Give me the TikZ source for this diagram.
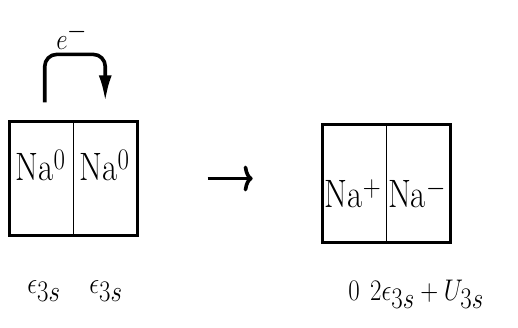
\documentclass[tikz,border=0pt]{standalone}
\usepackage{amsmath}
\usepackage{tikz}
\usetikzlibrary{arrows.meta}

\newcommand{\tall}[1]{\scalebox{1}[1.2]{#1}}

\begin{document}
\begin{tikzpicture}[x=1pt, y=1pt,
  cell/.style = {draw, line width=1.2pt, minimum width=63.5pt, inner sep=0pt},
  lbl/.style = {font=\fontsize{33}{38}\selectfont, inner sep=0pt},
  mlbl/.style = {font=\fontsize{37}{42}\selectfont, inner sep=0pt}]
  \useasboundingbox (0,0) rectangle (518,327);

  % two neutral atoms
  \node[cell, minimum height=113pt] (na1) at (41.75,148.5) {};
  \node[cell, minimum height=113pt] (na2) at (105.25,148.5) {};
  \draw[line width=2.8pt] (na1.north west) rectangle (na2.south east);
  \node[lbl, anchor=base] (tna1) at (40.5,147) {\tall{Na$^0$}};
  \node[lbl, anchor=base] (tna2) at (104.5,147) {\tall{Na$^0$}};

  \draw[-{Latex[length=26pt, width=13pt]}, line width=3.6pt, rounded corners=12pt]
    ([xshift=3pt, yshift=19pt]na1.north) -- ++(0,48) -| ([yshift=20pt]na2.north);
  \node[mlbl, anchor=base] (elec) at (72,277) {\tall{$e^-$}};

  \node[mlbl, anchor=base] (en1) at (44,34) {\tall{$\epsilon_{3s}$}};
  \node[mlbl, anchor=base] (en2) at (106,34) {\tall{$\epsilon_{3s}$}};

  % ion pair
  \node[cell, minimum height=117pt] (nap) at (355,143.5) {};
  \node[cell, minimum height=117pt] (nam) at (418.5,143.5) {};
  \draw[line width=2.8pt] (nap.north west) rectangle (nam.south east);
  \node[lbl, anchor=base] (tnap) at (353,120) {\tall{Na$^+$}};
  \node[lbl, anchor=base] (tnam) at (417,120) {\tall{Na$^-$}};

  \draw[-{To[length=9pt, width=26pt]}, line width=3.6pt, shorten <=70pt, shorten >=70pt]
    (na2.east) -- (na2.east -| nap.west);

  \node[lbl, anchor=base] (ezero) at (354,27) {\tall{$0$}};
  \node[lbl, anchor=base west] (eion) at (370,27) {\tall{$2\epsilon_{3s}+U_{3s}$}};
\end{tikzpicture}
\end{document}
